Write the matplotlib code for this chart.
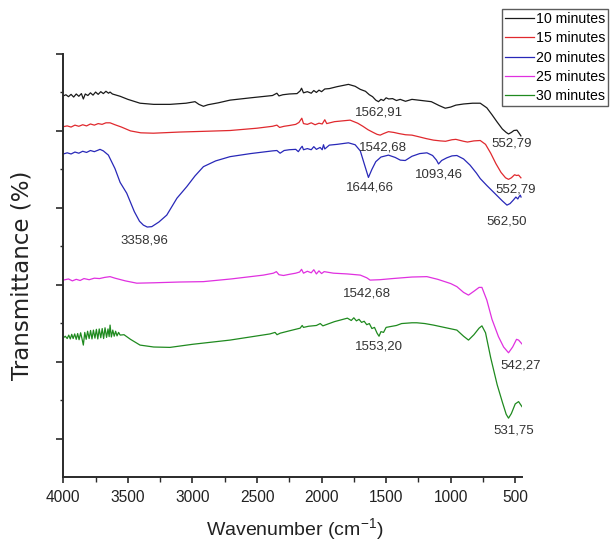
import matplotlib
matplotlib.use('Agg')
import matplotlib.pyplot as plt
from matplotlib.ticker import MultipleLocator

plt.rcParams['font.family'] = ['Liberation Sans', 'DejaVu Sans']
plt.rcParams['mathtext.fontset'] = 'custom'
plt.rcParams['mathtext.rm'] = 'Liberation Sans'

# FTIR spectra, wavenumber (cm-1) and transmittance (arbitrary offset units)
wn_10 = [4000, 3980, 3960, 3940, 3920, 3900, 3880, 3860, 3845, 3830, 3810, 3790, 3770, 3750,
         3730, 3710, 3690, 3670, 3650, 3638, 3620, 3600, 3560, 3500, 3406, 3300, 3174, 3050,
         2980, 2950, 2915, 2880, 2800, 2709, 2550, 2380, 2346, 2330, 2300, 2250, 2190, 2166,
         2155, 2140, 2110, 2080, 2060, 2040, 2020, 2000, 1975, 1940, 1880, 1792, 1740, 1700,
         1660, 1630, 1605, 1580, 1559, 1540, 1520, 1500, 1480, 1450, 1420, 1391, 1350, 1300,
         1250, 1150, 1090, 1042, 1000, 960, 900, 830, 771, 720, 680, 640, 600, 570, 552, 530,
         510, 487, 470, 456]
tr_10 = [99.1, 99.4, 98.9, 99.5, 98.8, 99.6, 99.0, 99.7, 98.3, 99.6, 99.2, 99.9, 99.3, 100.1,
         99.5, 100.2, 99.7, 100.3, 99.8, 100.1, 99.6, 99.4, 99.0, 98.2, 97.2, 96.9, 96.9, 97.2,
         97.6, 96.9, 96.4, 96.8, 97.3, 98.0, 98.6, 99.2, 99.8, 99.1, 99.4, 99.6, 99.7, 100.4,
         101.1, 99.9, 100.2, 99.8, 100.5, 100.0, 100.6, 100.2, 100.9, 101.0, 101.5, 102.1, 101.6, 100.8,
         100.3, 99.4, 98.9, 98.0, 97.6, 98.2, 97.9, 98.6, 98.3, 98.4, 97.9, 98.2, 97.7, 98.2,
         98.0, 97.6, 96.6, 95.9, 96.2, 96.7, 97.0, 97.2, 97.2, 96.0, 94.2, 92.3, 90.5, 89.6, 89.2, 89.6,
         90.1, 90.2, 89.4, 88.7]

wn_15 = [4000, 3970, 3940, 3910, 3880, 3850, 3820, 3790, 3760, 3730, 3700, 3670, 3638, 3600,
         3550, 3480, 3400, 3303, 3100, 2900, 2709, 2500, 2380, 2346, 2325, 2290, 2250, 2200,
         2175, 2153, 2140, 2110, 2080, 2050, 2020, 1995, 1975, 1960, 1900, 1779, 1720, 1680,
         1640, 1600, 1570, 1546, 1520, 1482, 1440, 1400, 1350, 1300, 1250, 1190, 1133, 1080,
         1040, 990, 960, 900, 870, 820, 771, 730, 690, 650, 610, 575, 552, 530, 505, 490, 474, 456]
tr_15 = [91.1, 91.3, 91.0, 91.5, 91.2, 91.6, 91.3, 91.8, 91.5, 91.9, 91.7, 92.1, 92.1, 91.6,
         91.0, 90.0, 89.5, 89.4, 89.7, 89.9, 90.1, 90.7, 91.2, 91.5, 90.9, 91.2, 91.4, 91.7,
         92.2, 93.3, 91.9, 91.7, 92.1, 91.6, 92.0, 91.8, 92.9, 91.9, 92.4, 92.8, 92.0, 91.2,
         90.3, 89.6, 89.1, 88.9, 89.3, 89.8, 89.6, 89.3, 89.0, 88.9, 88.5, 88.0, 87.6, 87.4,
         87.3, 87.7, 87.8, 87.3, 87.1, 87.4, 87.5, 86.5, 84.2, 81.5, 79.2, 77.8, 77.4, 77.8, 78.6, 78.4, 78.5, 77.8]

wn_20 = [4000, 3970, 3940, 3910, 3880, 3850, 3820, 3790, 3760, 3730, 3716, 3690, 3651, 3600,
         3560, 3509, 3450, 3410, 3380, 3350, 3315, 3260, 3199, 3120, 3044, 2980, 2915, 2820,
         2709, 2550, 2380, 2346, 2321, 2290, 2250, 2200, 2180, 2160, 2150, 2140, 2110, 2080,
         2060, 2040, 2011, 1995, 1985, 1975, 1940, 1880, 1792, 1740, 1700, 1670, 1637, 1610,
         1580, 1540, 1482, 1430, 1390, 1352, 1300, 1240, 1184, 1140, 1110, 1094, 1070, 1030,
         990, 952, 900, 850, 800, 771, 720, 660, 600, 564, 540, 515, 495, 480, 470, 461, 455]
tr_20 = [84.0, 84.3, 84.0, 84.5, 84.2, 84.7, 84.4, 84.9, 84.6, 85.0, 85.2, 84.8, 83.7, 80.2,
         76.6, 73.8, 69.0, 66.5, 65.5, 65.0, 65.1, 66.3, 68.1, 72.5, 75.5, 78.3, 80.7, 82.2,
         83.3, 84.1, 84.8, 84.9, 84.2, 84.9, 85.1, 85.2, 84.6, 85.6, 86.0, 85.1, 85.4, 85.1,
         85.9, 85.2, 85.7, 85.1, 86.4, 85.3, 86.3, 86.5, 86.9, 86.4, 84.8, 81.5, 77.9, 80.0,
         82.0, 83.2, 83.7, 83.1, 82.4, 82.3, 83.4, 84.1, 84.3, 83.6, 82.4, 81.4, 82.3, 83.0,
         83.5, 83.6, 82.7, 81.1, 79.0, 77.6, 75.8, 73.8, 71.8, 70.7, 71.1, 72.0, 72.8, 72.3, 72.9, 73.3, 72.8]

wn_25 = [4000, 3960, 3930, 3900, 3870, 3840, 3800, 3760, 3720, 3680, 3638, 3600, 3520, 3431,
         3300, 3100, 2915, 2700, 2450, 2373, 2350, 2330, 2295, 2250, 2200, 2170, 2155, 2140,
         2110, 2080, 2060, 2040, 2020, 2000, 1980, 1908, 1800, 1700, 1650, 1624, 1550, 1450,
         1300, 1184, 1100, 1000, 952, 900, 862, 820, 780, 758, 720, 680, 630, 590, 552, 520,
         490, 474, 448]
tr_25 = [51.2, 51.5, 51.0, 51.4, 51.1, 51.6, 51.3, 51.7, 51.6, 51.9, 52.1, 51.7, 51.0, 50.4,
         50.5, 50.7, 50.8, 51.5, 52.5, 53.0, 53.4, 52.6, 52.4, 52.7, 53.0, 53.3, 54.0, 53.0,
         53.5, 53.1, 53.9, 52.8, 53.6, 52.9, 53.4, 53.0, 52.8, 52.5, 51.8, 51.2, 51.3, 51.6,
         52.0, 52.1, 51.4, 50.3, 49.5, 48.0, 47.3, 48.3, 49.3, 49.3, 46.0, 41.0, 36.5, 33.8, 32.3, 33.8,
         35.8, 35.6, 34.6]

wn_30 = [4000, 3985, 3970, 3958, 3946, 3935, 3924, 3912, 3900, 3889, 3878, 3866, 3855, 3845,
         3834, 3823, 3812, 3800, 3789, 3778, 3767, 3755, 3744, 3733, 3722, 3710, 3699, 3688,
         3677, 3665, 3654, 3645, 3638, 3628, 3617, 3606, 3595, 3584, 3572, 3560, 3530, 3480,
         3406, 3300, 3174, 3000, 2709, 2400, 2360, 2345, 2320, 2250, 2166, 2150, 2140, 2100,
         2040, 2010, 1990, 1900, 1800, 1770, 1750, 1730, 1710, 1690, 1670, 1650, 1630, 1610,
         1590, 1570, 1555, 1540, 1520, 1500, 1469, 1420, 1380, 1300, 1262, 1200, 1133, 1050,
         952, 900, 862, 820, 780, 758, 730, 690, 640, 600, 570, 552, 530, 500, 474, 448]
tr_30 = [36.2, 36.6, 36.0, 36.9, 35.9, 37.1, 36.0, 37.2, 35.8, 37.3, 35.7, 37.5, 35.9, 34.3,
         37.6, 35.8, 37.9, 36.0, 38.1, 35.9, 38.2, 36.1, 38.4, 35.9, 38.5, 36.2, 38.6, 36.0,
         38.8, 36.3, 38.5, 36.5, 39.5, 36.4, 38.2, 36.6, 37.9, 36.7, 37.6, 36.9, 37.0, 35.8,
         34.3, 33.8, 33.7, 34.5, 35.6, 37.2, 37.6, 37.0, 37.4, 38.0, 38.7, 39.4, 38.9, 39.2,
         39.4, 39.9, 39.3, 40.4, 41.3, 40.7, 41.4, 40.6, 41.0, 40.2, 40.5, 39.6, 39.9, 38.6,
         38.9, 37.4, 36.6, 37.8, 37.6, 38.9, 39.1, 39.4, 39.9, 40.1, 40.1, 39.9, 39.5, 38.9,
         38.2, 36.6, 35.6, 37.0, 38.7, 39.3, 37.5, 31.0, 24.0, 19.5, 16.3, 15.3, 16.5, 19.0, 19.6, 18.3]

labels = ['10 minutes', '15 minutes', '20 minutes', '25 minutes', '30 minutes']
colors = ['#1a1a1a', '#e0292e', '#2828b8', '#e030e0', '#1f8a1f']

# peak annotations: text, wavenumber, transmittance position
peak_text = ['1562,91', '552,79', '1542,68', '1644,66', '1093,46', '552,79', '562,50',
             '3358,96', '1542,68', '1553,20', '542,27', '531,75']
peak_wn = [1554, 526, 1521, 1624, 1087, 500, 564, 3369, 1649, 1552, 456, 513]
peak_tr = [94.7, 86.6, 85.7, 75.2, 78.7, 74.8, 66.4, 61.4, 47.8, 33.9, 28.9, 12.2]

fig = plt.figure(figsize=(6.16, 5.47), dpi=100)
ax = fig.add_axes([0.1028, 0.128, 0.7441, 0.7733])

series = [(wn_10, tr_10), (wn_15, tr_15), (wn_20, tr_20), (wn_25, tr_25), (wn_30, tr_30)]
for (x, y), lab, c in zip(series, labels, colors):
    ax.plot(x, y, color=c, lw=0.9, label=lab)

for t, x, y in zip(peak_text, peak_wn, peak_tr):
    ax.text(x, y, t, ha='center', va='center', fontsize=9.5, color='#333333')

ax.set_xlim(4000, 450)
ax.set_ylim(0, 110)
ax.xaxis.set_major_locator(MultipleLocator(500))
ax.xaxis.set_minor_locator(MultipleLocator(250))
ax.set_yticks([10, 30, 50, 70, 90, 110])
ax.set_yticks([20, 40, 60, 80, 100], minor=True)
ax.set_yticklabels([])

for s in ['top', 'right']:
    ax.spines[s].set_visible(False)
for s in ['left', 'bottom']:
    ax.spines[s].set_linewidth(1.4)
    ax.spines[s].set_color('#2a2a2a')

ax.tick_params(axis='x', which='major', length=4.5, width=1.2, color='#2a2a2a',
               labelsize=11.2, pad=5, labelcolor='#222222')
ax.tick_params(axis='x', which='minor', length=3.5, width=1.0, color='#2a2a2a')
ax.tick_params(axis='y', which='major', length=4.8, width=1.2, color='#2a2a2a')
ax.tick_params(axis='y', which='minor', length=2.5, width=1.0, color='#2a2a2a')

ax.set_xlabel(r'Wavenumber (cm$^{\mathregular{-1}}$)', fontsize=14, color='#222222', va='center')
ax.xaxis.set_label_coords(0.505, -0.125)
ax.set_ylabel('Transmittance (%)', fontsize=16.5, color='#222222', va='center',
              family=['DejaVu Sans'])
ax.yaxis.set_label_coords(-0.091, 0.4775)

leg = fig.legend(loc='upper right', bbox_to_anchor=(0.987, 0.9835), fontsize=10.2,
                 frameon=True, fancybox=False, borderpad=0.2, borderaxespad=0,
                 handlelength=2.1, handletextpad=0.1, labelspacing=0.38)
leg.get_frame().set_edgecolor('#333333')
leg.get_frame().set_linewidth(1.0)

fig.savefig('out.png', dpi=100)
